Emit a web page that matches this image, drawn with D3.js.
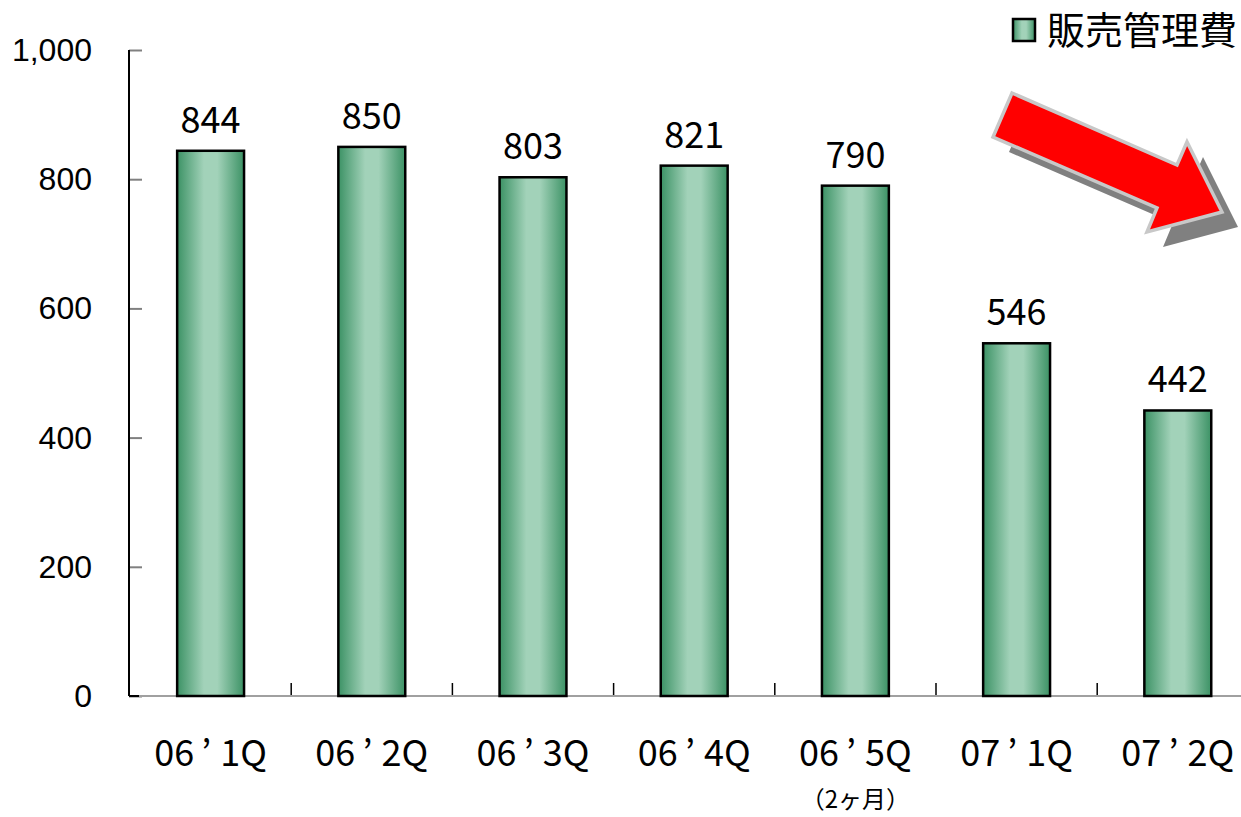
<!DOCTYPE html>
<html>
<head>
<meta charset="utf-8">
<script src="https://cdn.jsdelivr.net/npm/d3@7/dist/d3.min.js"></script>
<style>
  html, body { margin: 0; padding: 0; background: #fff; }
  svg { display: block; }
</style>
</head>
<body>
<svg id="chart" width="1241" height="817"></svg>
<script>
// Selling, general & administrative expenses by quarter
const categories = ["06’1Q", "06’2Q", "06’3Q", "06’4Q", "06’5Q", "07’1Q", "07’2Q"];
const subLabels  = ["", "", "", "", "（2ヶ月）", "", ""];
const values     = [844, 850, 803, 821, 790, 546, 442];
const yTicks     = [0, 200, 400, 600, 800, 1000];
const seriesName = "販売管理費";

const W = 1241, H = 817;
const margin = { left: 129, top: 50, bottom: 121 };
const bandStep = 161.2;

const svg = d3.select("#chart");
const jp = "'Noto Sans CJK JP', sans-serif";

const x = d3.scaleBand()
  .domain(categories)
  .range([margin.left + 1, margin.left + 1 + bandStep * categories.length])
  .paddingInner(0.585)
  .paddingOuter(0.2925);

const y = d3.scaleLinear()
  .domain([0, 1000])
  .range([H - margin.bottom, margin.top]);

// Bar fill: dark edges, light centre
const defs = svg.append("defs");
const grad = defs.append("linearGradient").attr("id", "barGrad")
  .attr("x1", "0%").attr("x2", "100%").attr("y1", "0%").attr("y2", "0%");
[[0, "#3c9265"], [0.4, "#a2d2b9"], [0.6, "#a2d2b9"], [1, "#3c9265"]]
  .forEach(([o, c]) => grad.append("stop").attr("offset", o).attr("stop-color", c));

// Y axis
const yAxis = svg.append("g")
  .attr("transform", `translate(${margin.left},0)`)
  .call(d3.axisRight(y).tickValues(yTicks).tickSize(13).tickFormat(""));
yAxis.select(".domain").remove();
yAxis.selectAll(".tick line").attr("stroke", "#808080").attr("stroke-width", 2);

svg.append("line")
  .attr("x1", margin.left).attr("x2", margin.left)
  .attr("y1", y(1000)).attr("y2", y(0))
  .attr("stroke", "#000").attr("stroke-width", 2);

svg.append("g").selectAll("text")
  .data(yTicks).join("text")
  .attr("x", 92).attr("y", d => y(d) + 11)
  .attr("text-anchor", "end")
  .attr("font-family", "'Liberation Sans', Arial, sans-serif")
  .attr("font-size", 32)
  .attr("fill", "#000")
  .text(d => d3.format(",")(d));

// X axis: ticks between categories, pointing up
const boundaries = categories.slice(1).map(c => x(c) - x.step() * x.paddingInner() / 2);
svg.append("g").selectAll("line")
  .data(boundaries).join("line")
  .attr("x1", d => d).attr("x2", d => d)
  .attr("y1", y(0)).attr("y2", y(0) - 13)
  .attr("stroke", "#000").attr("stroke-width", 1.5);

svg.append("line")
  .attr("x1", margin.left).attr("x2", W)
  .attr("y1", y(0)).attr("y2", y(0))
  .attr("stroke", "#a0a0a0").attr("stroke-width", 2);
svg.append("line")
  .attr("x1", margin.left).attr("x2", margin.left + 10)
  .attr("y1", y(0)).attr("y2", y(0))
  .attr("stroke", "#000").attr("stroke-width", 2);

// Bars
svg.append("g").selectAll("rect")
  .data(values).join("rect")
  .attr("x", (d, i) => x(categories[i]))
  .attr("y", d => y(d))
  .attr("width", x.bandwidth())
  .attr("height", d => y(0) - y(d))
  .attr("fill", "url(#barGrad)")
  .attr("stroke", "#000")
  .attr("stroke-width", 2.5);

// Value labels
svg.append("g").selectAll("text")
  .data(values).join("text")
  .attr("x", (d, i) => x(categories[i]) + x.bandwidth() / 2)
  .attr("y", d => y(d) - 18)
  .attr("text-anchor", "middle")
  .attr("font-family", jp)
  .attr("font-size", 36)
  .attr("fill", "#000")
  .text(d => d);

// Category labels (apostrophe set in a full-width cell)
svg.append("g").selectAll("text")
  .data(categories).join("text")
  .attr("x", d => x(d) + x.bandwidth() / 2)
  .attr("y", 766)
  .attr("text-anchor", "middle")
  .attr("font-family", jp)
  .attr("font-size", 36)
  .attr("fill", "#000")
  .text(d => d.replace("’", "\u2009’\u2005"));

svg.append("g").selectAll("text")
  .data(subLabels).join("text")
  .attr("x", (d, i) => x(categories[i]) + x.bandwidth() / 2)
  .attr("y", 808)
  .attr("text-anchor", "middle")
  .attr("font-family", jp)
  .attr("font-size", 24)
  .attr("fill", "#000")
  .text(d => d);

// Legend
svg.append("rect")
  .attr("x", 1013).attr("y", 19).attr("width", 22).attr("height", 22)
  .attr("fill", "url(#barGrad)").attr("stroke", "#000").attr("stroke-width", 2.5);
svg.append("text")
  .attr("x", 1047).attr("y", 44)
  .attr("font-family", jp)
  .attr("font-size", 38)
  .attr("fill", "#000")
  .text(seriesName);

// Downward trend arrow with drop shadow
const arrowPts = [[1012, 93], [1177, 165], [1187, 142], [1222, 212], [1147, 232], [1157, 208], [993, 137]];
const arrowLine = d3.line().curve(d3.curveLinearClosed);
svg.append("path")
  .attr("d", arrowLine(arrowPts))
  .attr("transform", "translate(16,15)")
  .attr("fill", "#808080");
svg.append("path")
  .attr("d", arrowLine(arrowPts))
  .attr("fill", "#ff0000")
  .attr("stroke", "#c8c8c8")
  .attr("stroke-width", 3.5)
  .attr("stroke-linejoin", "miter");
</script>
</body>
</html>
